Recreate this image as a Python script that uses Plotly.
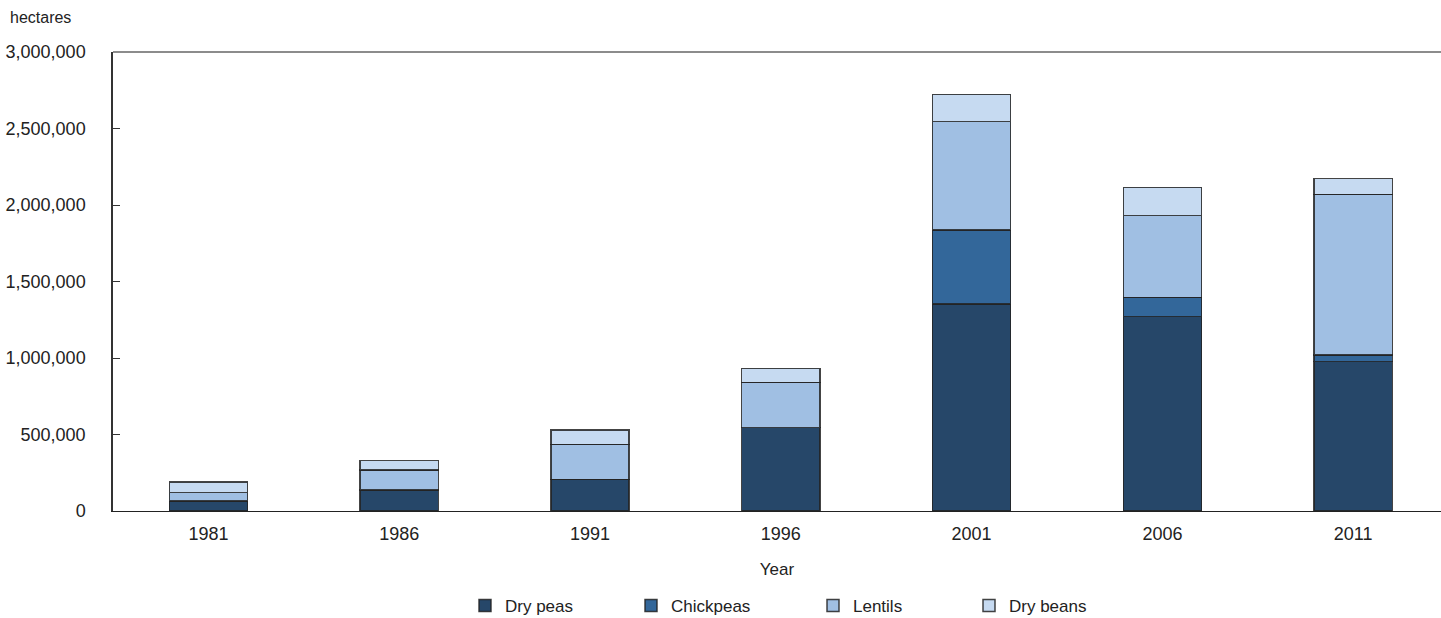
import plotly.graph_objects as go

years = ["1981", "1986", "1991", "1996", "2001", "2006", "2011"]
dry_peas = [65000, 137000, 207000, 545000, 1353000, 1270000, 976000]
chickpeas = [0, 0, 0, 0, 484000, 127000, 44000]
lentils = [55000, 131000, 229000, 296000, 708000, 533000, 1050000]
dry_beans = [71000, 61000, 93000, 92000, 178000, 186000, 102000]
y_ticks = [0, 500000, 1000000, 1500000, 2000000, 2500000, 3000000]

series = [
    ("Dry peas", dry_peas, "#264769", "legend", 465),
    ("Chickpeas", chickpeas, "#33679A", "legend2", 631),
    ("Lentils", lentils, "#A0BFE3", "legend3", 813),
    ("Dry beans", dry_beans, "#C6DAF1", "legend4", 969),
]

FONT = "Liberation Sans, Arial, sans-serif"
W, H = 1441, 618
L, T, B = 113, 52, 107

fig = go.Figure()
legends = {}
for name, vals, color, lg, px in series:
    fig.add_trace(go.Bar(
        x=years, y=vals, name=name, legend=lg,
        marker=dict(color=color, line=dict(color="rgba(35,35,35,0.85)", width=1.5)),
    ))
    legends[lg] = dict(
        orientation="h", xref="container", yref="container",
        x=px / W, y=(H - 606) / H, xanchor="left", yanchor="middle",
        font=dict(family=FONT, size=17, color="#222"),
        bgcolor="rgba(0,0,0,0)", borderwidth=0,
    )

plot_w = W - L
spacing = 190.8
fig.update_layout(
    width=W, height=H,
    margin=dict(l=L, r=0, t=T, b=B, pad=0),
    barmode="stack", bargap=0.59,
    plot_bgcolor="white", paper_bgcolor="white",
    font=dict(family=FONT, size=18, color="#222"),
    showlegend=True,
    xaxis=dict(
        type="category", range=[-0.5, -0.5 + plot_w / spacing],
        showline=True, linecolor="#222", linewidth=1.2,
        ticks="", showgrid=False, zeroline=False,
        ticklabelstandoff=6,
        tickfont=dict(family=FONT, size=18, color="#222"),
        title=dict(text="Year", font=dict(family=FONT, size=17, color="#222"), standoff=20),
    ),
    yaxis=dict(
        range=[0, 3000000], tickvals=y_ticks, tickformat=",",
        showline=True, linecolor="#333", linewidth=1.5,
        ticks="inside", ticklen=7, tickcolor="#333", tickwidth=1.2,
        ticklabelstandoff=22,
        showgrid=False, zeroline=False,
        tickfont=dict(family=FONT, size=18, color="#222"),
    ),
    shapes=[dict(type="line", xref="paper", yref="paper", x0=0, x1=1, y0=1, y1=1,
                 line=dict(color="#666", width=1.5))],
    annotations=[dict(text="hectares", xref="paper", yref="paper",
                      x=(8 - L) / plot_w, y=(H - B - 18) / (H - B - T),
                      xanchor="left", yanchor="middle", showarrow=False,
                      font=dict(family=FONT, size=16, color="#222"))],
    **legends,
)

fig.write_html("out.html")
